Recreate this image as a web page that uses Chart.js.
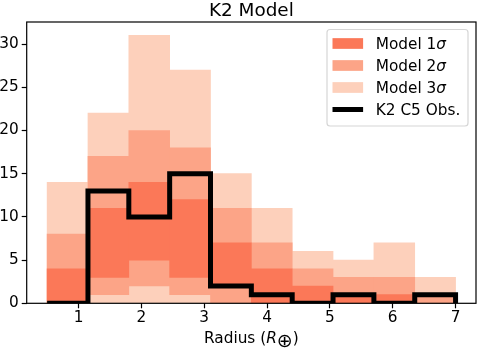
<!DOCTYPE html>
<html><head><meta charset="utf-8">
<script src="https://cdn.jsdelivr.net/npm/chart.js@4.4.0/dist/chart.umd.min.js"></script>
<style>html,body{margin:0;padding:0;background:#fff;}canvas{display:block;}</style>
</head><body>
<canvas id="c" width="477" height="349"></canvas>
<script>
// ---- data ----
const binEdges = [0.5, 1.15, 1.8, 2.45, 3.1, 3.75, 4.4, 5.05, 5.7, 6.35, 7.0];
const sigma1Low  = [0, 3, 5, 3, 2, 0, 0, 0, 0, 0];
const sigma1High = [4, 11, 14, 12, 7, 4, 2, 1, 1, 0];
const sigma2Low  = [0, 1, 2, 1, 0, 0, 0, 0, 0, 0];
const sigma2High = [8, 17, 20, 18, 11, 7, 4, 3, 3, 1];
const sigma3Low  = [0, 0, 0, 0, 0, 0, 0, 0, 0, 0];
const sigma3High = [14, 22, 31, 27, 15, 11, 6, 5, 7, 3];
const observed   = [0, 13, 10, 15, 2, 1, 0, 1, 0, 1];
const xTickValues = [1, 2, 3, 4, 5, 6, 7];
const yTickValues = [0, 5, 10, 15, 20, 25, 30];
const seriesLabels = ['Model 1σ', 'Model 2σ', 'Model 3σ', 'K2 C5 Obs.'];
const chartTitle = 'K2 Model';
const xAxisLabel = ['Radius (', 'R', '⊕', ')'];

// ---- styles ----
const FAM = '"DejaVu Sans"';
const FS = 15.3;
const colors = ['#fb7858', '#fca487', '#fdd0bb', '#000000'];

const centers = binEdges.slice(0, -1).map((e, i) => (e + binEdges[i + 1]) / 2);
const band = (lo, hi) => centers.map((c, i) => ({ x: c, y: [lo[i], hi[i]] }));
const lastEdge = binEdges[binEdges.length - 1];
const stepPts = [{ x: binEdges[0], y: 0 }]
  .concat(observed.map((v, i) => ({ x: binEdges[i], y: v })))
  .concat([{ x: lastEdge, y: 0 }]);

const span = lastEdge - binEdges[0];
const xMin = binEdges[0] - 0.05 * span, xMax = lastEdge + 0.05 * span;
const yMax = Math.max(...sigma3High) * 1.05;

const barDs = (label, lo, hi, color, order) => ({
  type: 'bar', label, data: band(lo, hi), backgroundColor: color,
  borderWidth: 0, grouped: false, barPercentage: 1, categoryPercentage: 1, order
});

const decor = {
  id: 'decor',
  afterDatasetsDraw(chart) {
    const { ctx, chartArea: a } = chart;
    ctx.save();
    // frame
    ctx.strokeStyle = '#000'; ctx.lineWidth = 1.2;
    ctx.strokeRect(a.left, a.top, a.right - a.left, a.bottom - a.top);
    // title
    ctx.fillStyle = '#000';
    ctx.font = `18.4px ${FAM}`;
    ctx.textAlign = 'center'; ctx.textBaseline = 'alphabetic';
    ctx.fillText(chartTitle, (a.left + a.right) / 2, 16);
    // x axis label with italic R and circled-plus subscript
    const fN = `${FS}px ${FAM}`, fI = `oblique ${FS}px ${FAM}`, fO = `19px ${FAM}`;
    ctx.textAlign = 'left';
    const fonts = [fN, fI, fO, fN];
    const widths = xAxisLabel.map((t, i) => { ctx.font = fonts[i]; return ctx.measureText(t).width; });
    const total = widths.reduce((s, w) => s + w, 0);
    let x = (a.left + a.right) / 2 - total / 2;
    const base = 342.5;
    xAxisLabel.forEach((t, i) => {
      ctx.font = fonts[i];
      let y = base;
      if (i === 2) {
        const m = ctx.measureText(t);
        y = 341 + (m.actualBoundingBoxAscent - m.actualBoundingBoxDescent) / 2;
      }
      ctx.fillText(t, x, y);
      x += widths[i];
    });
    // legend
    const L = { x: 327, y: 29.5, w: 141, h: 96.5, r: 3 };
    ctx.beginPath();
    ctx.moveTo(L.x + L.r, L.y);
    ctx.arcTo(L.x + L.w, L.y, L.x + L.w, L.y + L.h, L.r);
    ctx.arcTo(L.x + L.w, L.y + L.h, L.x, L.y + L.h, L.r);
    ctx.arcTo(L.x, L.y + L.h, L.x, L.y, L.r);
    ctx.arcTo(L.x, L.y, L.x + L.w, L.y, L.r);
    ctx.closePath();
    ctx.fillStyle = 'rgba(255,255,255,0.8)'; ctx.fill();
    ctx.strokeStyle = '#d6d6d6'; ctx.lineWidth = 1.2; ctx.stroke();
    chart.data.datasets.forEach((ds, i) => {
      const cy = 43.5 + 22 * i;
      const hx = 332.5, hw = 30.6;
      if (ds.type === 'line') {
        ctx.strokeStyle = ds.borderColor; ctx.lineWidth = ds.borderWidth;
        ctx.beginPath(); ctx.moveTo(hx, cy); ctx.lineTo(hx + hw, cy); ctx.stroke();
      } else {
        ctx.fillStyle = ds.backgroundColor;
        ctx.fillRect(hx, cy - 5.35, hw, 10.7);
      }
      ctx.fillStyle = '#000';
      let tx = 375.8;
      for (const ch of ds.label) {
        ctx.font = ch === 'σ' ? fI : fN;
        ctx.fillText(ch, tx, cy + 5.3);
        tx += ctx.measureText(ch).width;
      }
    });
    ctx.restore();
  }
};

new Chart(document.getElementById('c'), {
  type: 'bar',
  data: {
    datasets: [
      barDs(seriesLabels[0], sigma1Low, sigma1High, colors[0], 1),
      barDs(seriesLabels[1], sigma2Low, sigma2High, colors[1], 2),
      barDs(seriesLabels[2], sigma3Low, sigma3High, colors[2], 3),
      { type: 'line', label: seriesLabels[3], data: stepPts, stepped: true,
        borderColor: colors[3], borderWidth: 5, pointRadius: 0, fill: false,
        borderJoinStyle: 'miter', borderCapStyle: 'butt', clip: 0, order: 0 }
    ]
  },
  options: {
    responsive: false, animation: false, devicePixelRatio: 1,
    layout: { padding: { top: 22, right: 1, left: 0, bottom: 0 } },
    plugins: { legend: { display: false }, title: { display: false }, tooltip: { enabled: false } },
    scales: {
      x: {
        type: 'linear', min: xMin, max: xMax, offset: false,
        grid: { display: true, offset: false, drawOnChartArea: false, drawTicks: true, tickLength: 5, tickWidth: 1.2, tickColor: '#000' },
        border: { display: false },
        ticks: { font: { family: FAM, size: FS }, color: '#000', padding: 1, autoSkip: false, maxRotation: 0 },
        afterBuildTicks: (s) => { s.ticks = xTickValues.map(v => ({ value: v })); },
        afterFit: (s) => { s.height = 45.7; }
      },
      y: {
        type: 'linear', min: 0, max: yMax,
        grid: { display: true, drawOnChartArea: false, drawTicks: true, tickLength: 5, tickWidth: 1.2, tickColor: '#000' },
        border: { display: false },
        ticks: { font: { family: FAM, size: FS }, color: '#000', padding: 3, autoSkip: false },
        afterBuildTicks: (s) => { s.ticks = yTickValues.map(v => ({ value: v })); },
        afterFit: (s) => { s.width = 26.7; }
      }
    }
  },
  plugins: [decor]
});
</script>
</body></html>
